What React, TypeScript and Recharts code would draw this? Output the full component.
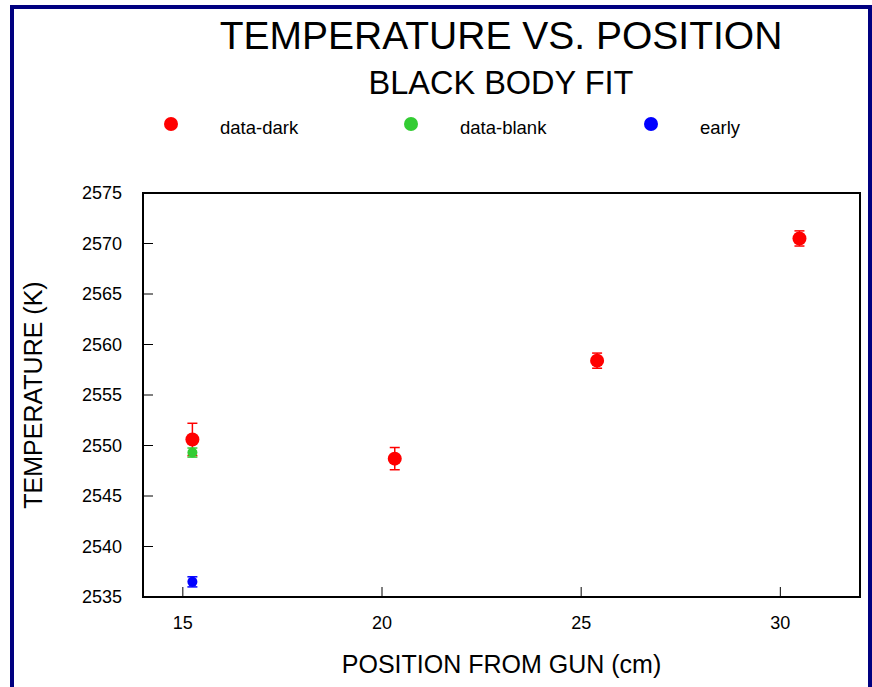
import React from 'react'
import {
  ScatterChart, Scatter, XAxis, YAxis, ErrorBar, ReferenceArea, Legend,
} from 'recharts'

// positions in cm (6, 8, 10, 12 inches), temperatures in K
const darkX = [15.24, 20.32, 25.4, 30.48]
const darkT = [2550.6, 2548.7, 2558.4, 2570.5]
const darkErr = [1.6, 1.1, 0.75, 0.75]

const blankX = [15.24]
const blankT = [2549.3]
const blankErr = [0.45]

const earlyX = [15.24]
const earlyT = [2536.5]
const earlyErr = [0.5]

const xTicks = [15, 20, 25, 30]
const yTicks = [2535, 2540, 2545, 2550, 2555, 2560, 2565, 2570, 2575]
const legendOrder = ['data-dark', 'data-blank', 'early']

const toPoints = (xs: number[], ts: number[], errs: number[]) =>
  xs.map((x, i) => ({ x, t: ts[i], err: errs[i] }))

const darkData = toPoints(darkX, darkT, darkErr)
const blankData = toPoints(blankX, blankT, blankErr)
const earlyData = toPoints(earlyX, earlyT, earlyErr)

const FONT = '"Liberation Sans", Arial, Helvetica, sans-serif'

const dot = (r: number, color: string) => (p: any) =>
  <circle cx={p.cx} cy={p.cy} r={r} fill={color} />

function LegendRow({ payload }: any) {
  const items = [...(payload || [])].sort(
    (a: any, b: any) => legendOrder.indexOf(a.value) - legendOrder.indexOf(b.value),
  )
  return (
    <div style={{ position: 'relative', width: 872, height: 30 }}>
      {items.map((e: any, i: number) => (
        <div key={e.value} style={{ position: 'absolute', left: 164 + i * 240, top: 0 }}>
          <span style={{
            position: 'absolute', left: 0, top: 0, width: 14, height: 14,
            borderRadius: 7, background: e.color,
          }} />
          <span style={{
            position: 'absolute', left: 56, top: 0, fontSize: 18.5,
            whiteSpace: 'nowrap', color: '#000',
          }}>{e.value}</span>
        </div>
      ))}
    </div>
  )
}

export default function App() {
  return (
    <div style={{
      position: 'fixed', left: 0, top: 0, width: 872, height: 687,
      overflow: 'hidden', background: '#fff', fontFamily: FONT,
    }}>
      <div style={{
        position: 'absolute', left: 10, top: 5, width: 862, height: 720,
        border: '4px solid #000080', boxSizing: 'border-box',
      }} />
      <svg width={872} height={110} style={{ position: 'absolute', left: 0, top: 0 }}>
        <text x={501} y={49} textAnchor="middle" fontSize={39} fill="#000">
          TEMPERATURE VS. POSITION
        </text>
        <text x={501} y={94} textAnchor="middle" fontSize={32.5} fill="#000">
          BLACK BODY FIT
        </text>
      </svg>
      <div style={{ position: 'absolute', left: 0, top: 0 }}>
        <ScatterChart
          width={872}
          height={687}
          margin={{ top: 193, right: 12, left: 0, bottom: 0 }}
        >
          <XAxis
            type="number"
            dataKey="x"
            domain={[14, 32]}
            ticks={xTicks}
            allowDataOverflow
            height={90}
            tickSize={-10}
            tickMargin={29}
            axisLine={{ stroke: '#000', strokeWidth: 2 }}
            tickLine={{ stroke: '#000', strokeWidth: 1 }}
            tick={{ fontSize: 18, fill: '#000' }}
            label={{
              value: 'POSITION FROM GUN (cm)', position: 'insideBottom', offset: 14,
              fontSize: 25, fill: '#000',
            }}
          />
          <YAxis
            type="number"
            dataKey="t"
            domain={[2535, 2575]}
            ticks={yTicks}
            allowDataOverflow
            width={143}
            tickSize={-10}
            tickMargin={31}
            axisLine={{ stroke: '#000', strokeWidth: 2 }}
            tickLine={{ stroke: '#000', strokeWidth: 1 }}
            tick={{ fontSize: 18, fill: '#000' }}
            label={{
              value: 'TEMPERATURE (K)', angle: -90, position: 'insideLeft', offset: 33,
              fontSize: 25, fill: '#000', style: { textAnchor: 'middle' },
            }}
          />
          <ReferenceArea
            x1={14} x2={32} y1={2535} y2={2575}
            fill="none" fillOpacity={0} stroke="#000" strokeWidth={2}
          />
          <Legend
            layout="horizontal"
            verticalAlign="middle"
            align="center"
            content={<LegendRow />}
            wrapperStyle={{ top: 117, left: 0, width: 872 }}
          />
          <Scatter
            name="data-dark" data={darkData} fill="#ff0000"
            shape={dot(7, '#ff0000')} isAnimationActive={false}
          >
            <ErrorBar dataKey="err" direction="y" width={5} stroke="#ff0000" strokeWidth={1.5} />
          </Scatter>
          <Scatter
            name="data-blank" data={blankData} fill="#33cc33"
            shape={dot(5, '#33cc33')} isAnimationActive={false}
          >
            <ErrorBar dataKey="err" direction="y" width={5} stroke="#33cc33" strokeWidth={1.5} />
          </Scatter>
          <Scatter
            name="early" data={earlyData} fill="#0000ff"
            shape={dot(5, '#0000ff')} isAnimationActive={false}
          >
            <ErrorBar dataKey="err" direction="y" width={5} stroke="#0000ff" strokeWidth={1.5} />
          </Scatter>
        </ScatterChart>
      </div>
    </div>
  )
}
